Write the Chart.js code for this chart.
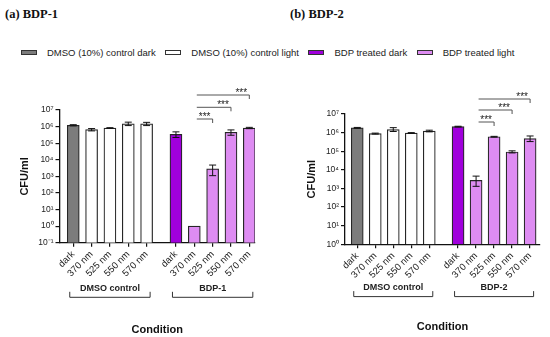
<!DOCTYPE html>
<html>
<head>
<meta charset="utf-8">
<script src="https://cdn.jsdelivr.net/npm/chart.js@4.4.1/dist/chart.umd.min.js"></script>
<style>
  body { margin: 0; width: 550px; height: 337px; position: relative; background: #fff; overflow: hidden; font-family: "Liberation Sans", Arial, sans-serif; }
  .ptitle { position: absolute; top: 7px; font: bold 12.5px "Liberation Serif", "Times New Roman", serif; line-height: 14px; color: #111; }
  .legend { position: absolute; left: 21px; top: 46px; height: 12px; display: flex; align-items: center; font-size: 9.5px; color: #222; white-space: nowrap; }
  .legend .sw { width: 14px; height: 3px; border: 1px solid #333; margin-right: 10px; }
  .legend .lbl { margin-right: 9.5px; }
  canvas { position: absolute; }
</style>
</head>
<body>
<div class="ptitle" style="left:5px">(a) BDP-1</div>
<div class="ptitle" style="left:290px">(b) BDP-2</div>
<div class="legend" id="legend"></div>
<canvas id="chartA" width="275" height="252" style="left:0px; top:85px"></canvas>
<canvas id="chartB" width="270" height="248" style="left:280px; top:89px"></canvas>
<script>
// categories
const xLabels = ['dark', '370 nm', '525 nm', '550 nm', '570 nm', 'dark', '370 nm', '525 nm', '550 nm', '570 nm'];
const barKinds = ['ctrlDark', 'ctrlLight', 'ctrlLight', 'ctrlLight', 'ctrlLight', 'bdpDark', 'bdpLight', 'bdpLight', 'bdpLight', 'bdpLight'];
const legendKinds = ['ctrlDark', 'ctrlLight', 'bdpDark', 'bdpLight'];
const legendLabels = ['DMSO (10%) control dark', 'DMSO (10%) control light', 'BDP treated dark', 'BDP treated light'];

// BDP-1 (CFU/ml), error bar limits
const bdp1Values = [1.2e6, 6.5e5, 8.2e5, 1.45e6, 1.45e6, 3.4e5, 1, 2.8e3, 4.5e5, 8.2e5];
const bdp1Upper  = [1.3e6, 7.6e5, 8.6e5, 1.85e6, 1.8e6, 4.8e5, null, 4.8e3, 6.3e5, 9.0e5];
const bdp1Lower  = [1.1e6, 5.5e5, 7.8e5, 1.15e6, 1.15e6, 2.2e5, null, 1.1e3, 3.0e5, 7.5e5];

// BDP-2 (CFU/ml), error bar limits
const bdp2Values = [1.8e6, 8.8e5, 1.45e6, 9.5e5, 1.2e6, 2.1e6, 2.7e3, 6.0e5, 9.1e4, 4.8e5];
const bdp2Upper  = [1.9e6, 9.4e5, 1.85e6, 1.0e6, 1.35e6, 2.2e6, 4.6e3, 6.3e5, 1.05e5, 6.6e5];
const bdp2Lower  = [1.7e6, 8.3e5, 1.15e6, 9.0e5, 1.1e6, 2.0e6, 1.3e3, 5.7e5, 8.1e4, 3.3e5];

// y ticks
const yTicksA = [1e-1, 1e0, 1e1, 1e2, 1e3, 1e4, 1e5, 1e6, 1e7];
const yTickLabelsA = ['10⁻¹', '10⁰', '10¹', '10²', '10³', '10⁴', '10⁵', '10⁶', '10⁷'];
const yTicksB = [1e0, 1e1, 1e2, 1e3, 1e4, 1e5, 1e6, 1e7];
const yTickLabelsB = ['10⁰', '10¹', '10²', '10³', '10⁴', '10⁵', '10⁶', '10⁷'];

// groups under the axis
const groupLabelsA = ['DMSO control', 'BDP-1'];
const groupLabelsB = ['DMSO control', 'BDP-2'];
const groupRanges = [[0, 4], [5, 9]];

// significance: BDP 370 nm vs 525 / 550 / 570 nm
const comparisons = [[6, 7], [6, 8], [6, 9]];
const compLabels = ['***', '***', '***'];

const colors = {
    ctrlDark: '#7c7c7c',
    ctrlLight: '#ffffff',
    bdpDark: '#a000dc',
    bdpLight: '#de8cf2'
};

// legend
const legend = document.getElementById('legend');
legendKinds.forEach((k, i) => {
    const sw = document.createElement('span');
    sw.className = 'sw';
    sw.style.background = colors[k];
    const lbl = document.createElement('span');
    lbl.className = 'lbl';
    lbl.textContent = legendLabels[i];
    legend.appendChild(sw);
    legend.appendChild(lbl);
});

// bar positions on the x axis: second group pushed a bit further
const groupGap = 0.6;
const xPos = xLabels.map((l, i) => i < 5 ? i : i + groupGap);

const annotations = {
    id: 'annotations',
    afterDatasetsDraw(chart, args, opts) {
        const ctx = chart.ctx;
        const meta = chart.getDatasetMeta(0);
        const x = chart.scales.x;
        const y = chart.scales.y;
        const area = chart.chartArea;
        ctx.save();

        // error bars
        ctx.strokeStyle = '#111';
        ctx.lineWidth = 1;
        meta.data.forEach((bar, i) => {
            if (opts.upper[i] == null) return;
            const yHi = y.getPixelForValue(opts.upper[i]);
            const yLo = y.getPixelForValue(opts.lower[i]);
            ctx.beginPath();
            ctx.moveTo(bar.x, yHi); ctx.lineTo(bar.x, yLo);
            ctx.moveTo(bar.x - 3.5, yHi); ctx.lineTo(bar.x + 3.5, yHi);
            ctx.moveTo(bar.x - 3.5, yLo); ctx.lineTo(bar.x + 3.5, yLo);
            ctx.stroke();
        });

        // significance lines
        ctx.strokeStyle = '#555';
        ctx.fillStyle = '#222';
        ctx.font = '10px "Liberation Sans", Arial, sans-serif';
        ctx.textAlign = 'center';
        ctx.textBaseline = 'alphabetic';
        comparisons.forEach((c, k) => {
            const x1 = x.getPixelForValue(xPos[c[0]]) + 2.5;
            const x2 = x.getPixelForValue(xPos[c[1]]);
            const ly = area.top + opts.sigOffsets[k];
            ctx.beginPath();
            ctx.moveTo(x1, ly); ctx.lineTo(x2, ly); ctx.lineTo(x2, ly + 4);
            ctx.stroke();
            ctx.fillText(compLabels[k], x2 - 8, ly + 0.5);
        });

        // group brackets
        ctx.strokeStyle = '#333';
        ctx.font = 'bold 9px "Liberation Sans", Arial, sans-serif';
        ctx.textBaseline = 'middle';
        groupRanges.forEach((g, k) => {
            const x1 = x.getPixelForValue(xPos[g[0]]) - 3.5;
            const x2 = x.getPixelForValue(xPos[g[1]]) + 3.5;
            const by = area.bottom + opts.bracketOffset;
            ctx.beginPath();
            ctx.moveTo(x1, by - 5.5); ctx.lineTo(x1, by); ctx.lineTo(x2, by); ctx.lineTo(x2, by - 5.5);
            ctx.stroke();
            ctx.fillText(opts.groupLabels[k], (x1 + x2) / 2, by - 9);
        });
        ctx.restore();
    }
};

function makeChart(id, p) {
    const ctx = document.getElementById(id).getContext('2d');
    return new Chart(ctx, {
        type: 'bar',
        data: {
            datasets: [{
                data: xPos.map((v, i) => ({ x: v, y: p.values[i] })),
                backgroundColor: barKinds.map(k => colors[k]),
                borderColor: '#262626',
                borderWidth: 1.2,
                barThickness: 12
            }]
        },
        options: {
            responsive: false,
            animation: false,
            devicePixelRatio: 1,
            layout: { padding: p.padding },
            plugins: {
                legend: { display: false },
                tooltip: { enabled: false },
                annotations: {
                    upper: p.upper, lower: p.lower, sigOffsets: p.sigOffsets,
                    bracketOffset: p.bracketOffset, groupLabels: p.groupLabels
                }
            },
            scales: {
                x: {
                    type: 'linear',
                    offset: false,
                    min: p.xMin,
                    max: p.xMax,
                    afterBuildTicks: s => { s.ticks = xPos.map(v => ({ value: v })); },
                    afterFit: s => { s.height = p.xHeight; },
                    grid: { offset: false, drawOnChartArea: false, tickLength: 4, color: '#111', lineWidth: 1.2 },
                    border: { color: '#111', width: 1.3 },
                    ticks: {
                        autoSkip: false, minRotation: 45, maxRotation: 45, padding: 2,
                        color: '#222', font: { size: 9.5 },
                        callback: (v, i) => xLabels[i]
                    },
                    title: {
                        display: true, text: 'Condition', color: '#111',
                        font: { size: 11, weight: 'bold' },
                        padding: { top: 0, bottom: p.titleBottom }
                    }
                },
                y: {
                    type: 'logarithmic',
                    min: p.yTicks[0],
                    max: p.yTicks[p.yTicks.length - 1],
                    afterBuildTicks: s => { s.ticks = p.yTicks.map(v => ({ value: v })); },
                    afterFit: s => { s.width = p.yWidth; },
                    grid: { drawOnChartArea: false, tickLength: 4, color: '#111', lineWidth: 1.2 },
                    border: { color: '#111', width: 1.3 },
                    ticks: {
                        padding: 2, color: '#222', font: { size: 8.5 },
                        callback: (v, i) => p.yTickLabels[i]
                    },
                    title: {
                        display: true, text: 'CFU/ml', color: '#111',
                        font: { size: 11, weight: 'bold' },
                        padding: 0
                    }
                }
            }
        },
        plugins: [annotations]
    });
}

Chart.defaults.font.family = '"Liberation Sans", Arial, sans-serif';

makeChart('chartA', {
    values: bdp1Values, upper: bdp1Upper, lower: bdp1Lower,
    yTicks: yTicksA, yTickLabels: yTickLabelsA, groupLabels: groupLabelsA,
    padding: { left: 18.4, top: 25, right: 20, bottom: 0 },
    yWidth: 41.1, xHeight: 94.3, titleBottom: 0.4,
    xMin: -0.75, xMax: 9.91,
    sigOffsets: [9, -2.7, -15], bracketOffset: 54.6
});

makeChart('chartB', {
    values: bdp2Values, upper: bdp2Upper, lower: bdp2Lower,
    yTicks: yTicksB, yTickLabels: yTickLabelsB, groupLabels: groupLabelsB,
    padding: { left: 25.1, top: 25, right: 10, bottom: 0 },
    yWidth: 39.9, xHeight: 92.7, titleBottom: 3.7,
    xMin: -0.68, xMax: 10.15,
    sigOffsets: [8, -4, -15], bracketOffset: 52.3
});
</script>
</body>
</html>
